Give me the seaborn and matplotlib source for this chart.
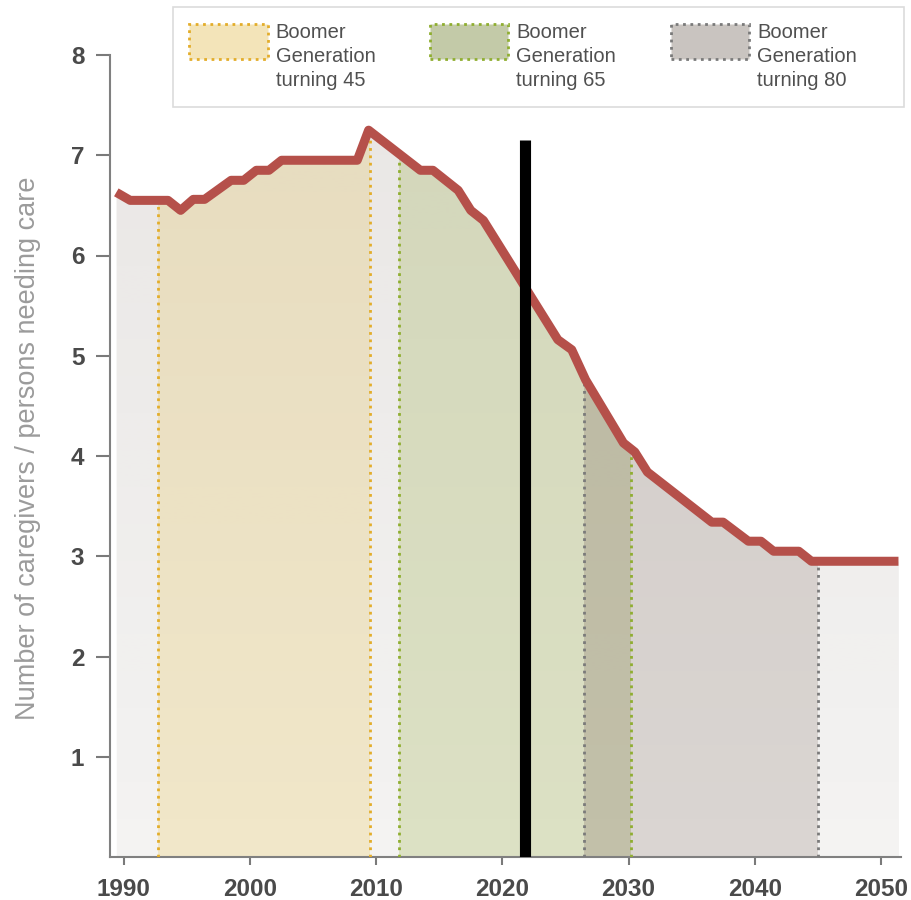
import numpy as np
import seaborn as sns
import matplotlib.pyplot as plt
from matplotlib.patches import Patch, Rectangle
from matplotlib.colors import to_rgb

# caregivers per person needing care (kinks of the curve, mid-year values)
years = [1989.4, 1990.5, 1993.5, 1994.5, 1995.5, 1996.4, 1998.5, 1999.5,
         2000.5, 2001.5, 2002.5, 2008.5, 2009.4, 2013.5, 2014.5, 2016.5,
         2017.5, 2018.5, 2024.4, 2025.5, 2026.6, 2029.6, 2030.5, 2031.5,
         2036.6, 2037.5, 2039.5, 2040.5, 2041.5, 2043.5, 2044.5, 2051.4]
ratio = [6.63, 6.55, 6.55, 6.45, 6.56, 6.56, 6.75, 6.75,
         6.85, 6.85, 6.95, 6.95, 7.25, 6.85, 6.85, 6.65,
         6.45, 6.35, 5.16, 5.06, 4.76, 4.13, 4.04, 3.84,
         3.34, 3.34, 3.15, 3.15, 3.05, 3.05, 2.95, 2.95]

# boomer generation periods
gen_labels = ['Boomer\nGeneration\nturning 45', 'Boomer\nGeneration\nturning 65',
              'Boomer\nGeneration\nturning 80']
gen_start = [1992.7, 2011.8, 2026.5]
gen_end = [2009.5, 2030.2, 2045.0]
gen_fill = ['#f3e4b9', '#c3caa8', '#c9c4c0']
gen_plot = ['#f0dfae', '#cdd6a6', '#c9c2bd']
gen_edge = ['#e3ad2a', '#8fae30', '#7a7a7a']

now_year = 2021.8
now_top = 7.15

sns.set_theme(style='ticks')
plt.rcParams['font.family'] = ['Liberation Sans', 'DejaVu Sans']

fig = plt.figure(figsize=(9.12, 9.0), dpi=100)
ax = fig.add_axes([110 / 912, 43 / 900, 791 / 912, 802 / 900])
xlim = (1988.9, 2051.6)

# area under the curve
area = ax.fill_between(years, ratio, 0, color='#f4f3f2', lw=0, zorder=1)
clip = area.get_paths()[0]

for s, e, fc in zip(gen_start, gen_end, gen_plot):
    sp = ax.axvspan(s, e, color=fc, alpha=0.6, lw=0, zorder=2)
    sp.set_clip_path(clip, ax.transData)

# overlap of 65 and 80 looks darker / olive
ov = ax.axvspan(max(gen_start[1], gen_start[2]), min(gen_end[1], gen_end[2]),
                color='#a8a880', alpha=0.35, lw=0, zorder=2)
ov.set_clip_path(clip, ax.transData)

# soft vertical gradient
rgba = np.zeros((256, 1, 4))
rgba[..., :3] = to_rgb('#6e5a50')
rgba[..., 3] = np.linspace(0, 0.085, 256)[:, None]
im = ax.imshow(rgba, extent=(xlim[0], xlim[1], 0, 8), origin='lower',
               aspect='auto', zorder=3, interpolation='bilinear')
im.set_clip_path(clip, ax.transData)

for s, e, ec in zip(gen_start, gen_end, gen_edge):
    for x in (s, e):
        ln = ax.axvline(x, color=ec, ls=':', lw=2, zorder=4)
        ln.set_clip_path(clip, ax.transData)

sns.lineplot(x=years, y=ratio, ax=ax, color='#b5504a', lw=6.5, zorder=5,
             solid_capstyle='butt')
ax.vlines(now_year, 0, now_top, color='black', lw=8, zorder=6)

ax.set_xlim(*xlim)
ax.set_ylim(0, 8)
ax.set_xticks(range(1990, 2051, 10))
ax.set_yticks(range(1, 9))
ax.set_xlabel('')
sns.despine(ax=ax)
for sp_name in ('left', 'bottom'):
    ax.spines[sp_name].set_color('#808080')
    ax.spines[sp_name].set_linewidth(1.5)
ax.tick_params(width=1.5, color='#7a7a7a', labelcolor='#4a4a4a', labelsize=17.5)
ax.tick_params(axis='y', length=10, pad=8.5)
ax.tick_params(axis='x', length=6, pad=9)
for t in ax.get_xticklabels() + ax.get_yticklabels():
    t.set_fontweight('bold')
ax.set_ylabel('Number of caregivers / persons needing care', color='#9b9b9b',
              fontsize=19.5)
ax.yaxis.set_label_coords(-0.087, 0.51)


class TopPatch:
    def legend_artist(self, legend, orig_handle, fontsize, handlebox):
        w, h = handlebox.width, handlebox.height
        ph = 1.75 * fontsize
        p = Rectangle((-handlebox.xdescent, -handlebox.ydescent + h - ph + 0.5 * fontsize),
                      w, ph, facecolor=orig_handle.get_facecolor(),
                      edgecolor=orig_handle.get_edgecolor(), linestyle=':',
                      linewidth=2, transform=handlebox.get_transform())
        handlebox.add_artist(p)
        return p


handles = [Patch(facecolor=fc, edgecolor=ec) for fc, ec in zip(gen_fill, gen_edge)]
leg = fig.legend(handles, gen_labels, handler_map={Patch: TopPatch()}, ncol=3,
                 loc='upper left', bbox_to_anchor=(173 / 912, 1 - 7 / 900),
                 borderaxespad=0, borderpad=0.8, frameon=False, fontsize=14.5,
                 handlelength=3.9, handleheight=3.3, handletextpad=0.4,
                 columnspacing=2.7, labelcolor='#505050')
for t in leg.get_texts():
    t.set_linespacing(1.32)
fig.add_artist(Rectangle((173 / 912, 1 - 107 / 900), 731 / 912, 100 / 900,
                         transform=fig.transFigure, facecolor='none',
                         edgecolor='#dcdcdc', lw=1.2, zorder=10))

fig.savefig('out.png', dpi=100)
